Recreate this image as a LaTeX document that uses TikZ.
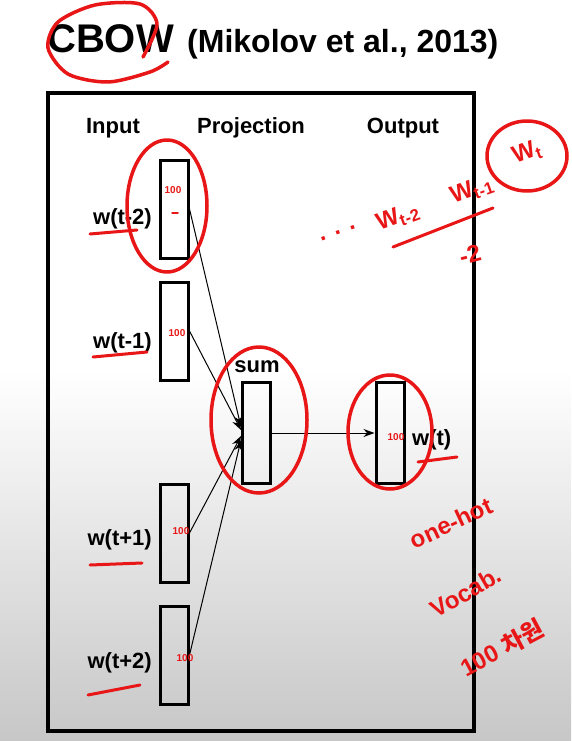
\documentclass[tikz,border=0pt]{standalone}
\usepackage{fontspec}
\setmainfont{Liberation Sans}
\newfontfamily\krfont{Noto Sans CJK KR}
\usetikzlibrary{arrows.meta}
\definecolor{penred}{RGB}{232,22,22}
\tikzset{
  vecbox/.style={draw, line width=3pt, minimum width=28pt, minimum height=98pt, inner sep=0pt},
  lbl/.style={font=\fontsize{22}{24}\selectfont\bfseries, inner sep=0pt, anchor=base},
  feed/.style={line width=1pt, -{Stealth[length=11pt,width=8pt]}},
  pen/.style={draw=penred, line width=3.5pt, line cap=round, line join=round},
  scrawl/.style={text=penred, font=\fontsize{24}{24}\selectfont\bfseries, inner sep=0pt},
  tiny/.style={text=penred, font=\fontsize{10}{10}\selectfont\bfseries, inner sep=0pt},
}

\begin{document}
\begin{tikzpicture}[x=1pt,y=-1pt]
    \useasboundingbox (0,0) rectangle (571,741);
    \fill[white] (0,0) rectangle (571,741);
    \shade[top color=white, bottom color=black!22] (0,370) rectangle (571,741);

    % title
    \node[anchor=base west, inner sep=0pt, font=\fontsize{40}{40}\selectfont\bfseries] (cbow) at (47,53) {CBOW};
    \node[anchor=base west, inner sep=0pt, font=\fontsize{32}{32}\selectfont\bfseries] (cite) at (187,53) {(Mikolov et al., 2013)};

    \draw[line width=4pt] (48,93) rectangle (474,731);

    % column heads
    \node[lbl] (input) at (113,133) {Input};
    \node[lbl] (proj)  at (251,133) {Projection};
    \node[lbl] (output) at (403,133) {Output};

    % vectors
    \node[vecbox] at (174,209) (in1) {};
    \node[vecbox] at (174,331) (in2) {};
    \node[vecbox] at (174,533) (in3) {};
    \node[vecbox] at (174,655) (in4) {};
    \node[vecbox, minimum height=101pt] at (256,433) (sum) {};
    \node[vecbox, minimum height=101pt] at (390,433) (out) {};

    \node[lbl, anchor=base east] at (152,224) (w1) {w(t-2)};
    \node[lbl, anchor=base east] at (152,348) (w2) {w(t-1)};
    \node[lbl, anchor=base east] at (152,545) (w3) {w(t+1)};
    \node[lbl, anchor=base east] at (152,668) (w4) {w(t+2)};
    \node[lbl] at (257,372) (sumlbl) {sum};
    \node[lbl, anchor=base west] at (412,445) (wt) {w(t)};

    \coordinate (tip1) at (241,427);
    \coordinate (tip2) at (241,430);
    \coordinate (tip3) at (241,436);
    \coordinate (tip4) at (241,440);

    \draw[feed] (in1.east) -- (tip1);
    \draw[feed] (in2.east) -- (tip2);
    \draw[feed] (in3.east) -- (tip3);
    \draw[feed] (in4.east) -- (tip4);
    \draw[feed] (sum.east) -- (out.west);

    % red pen notes
    \draw[pen] plot[smooth] coordinates {(143,57) (157,24) (140,4) (95,5) (58,22) (48,48) (68,74) (108,82) (150,72) (168,62)};
    \draw[pen] (167,206) ellipse [x radius=40, y radius=66];
    \draw[pen] (259,420) ellipse [x radius=48, y radius=73];
    \draw[pen] (390,432) ellipse [x radius=42, y radius=57];
    \draw[pen] (527,156) ellipse [x radius=40, y radius=35];

    \draw[pen, line width=3pt] (90,234) -- (137,230);
    \draw[pen, line width=3pt] (93,357) -- (147,352);
    \draw[pen, line width=3pt] (90,565) -- (142,563);
    \draw[pen, line width=3pt] (88,695) -- (140,685);
    \draw[pen, line width=3pt] (418,462) -- (457,457);

    \node[tiny] at (173,190) (n1) {100};
    \draw[pen, line width=1.5pt] (172,213) -- (178,213);
    \node[tiny] at (177,333) (n2) {100};
    \node[tiny] at (181,531) (n3) {100};
    \node[tiny] at (185,658) (n4) {100};
    \node[tiny] at (396,437) (n5) {100};

    \node[scrawl, rotate=20] at (338,233) (dots) {. . .};
    \node[scrawl, rotate=20] at (398,217) (wa) {W\textsubscript{t-2}};
    \node[scrawl, rotate=20] at (472,190) (wb) {W\textsubscript{t-1}};
    \node[scrawl, rotate=20] at (527,153) (wc) {W\textsubscript{t}};
    \draw[pen, line width=3pt] (393,247) -- (493,208);
    \node[scrawl, rotate=15] at (470,255) (two) {-2};
    \node[scrawl, rotate=25] at (451,523) (onehot) {one-hot};
    \node[scrawl, rotate=30] at (466,592) (vocab) {Vocab.};
    \node[scrawl, rotate=28] at (502,648) (dim) {100 \krfont 차원};
\end{tikzpicture}
\end{document}
